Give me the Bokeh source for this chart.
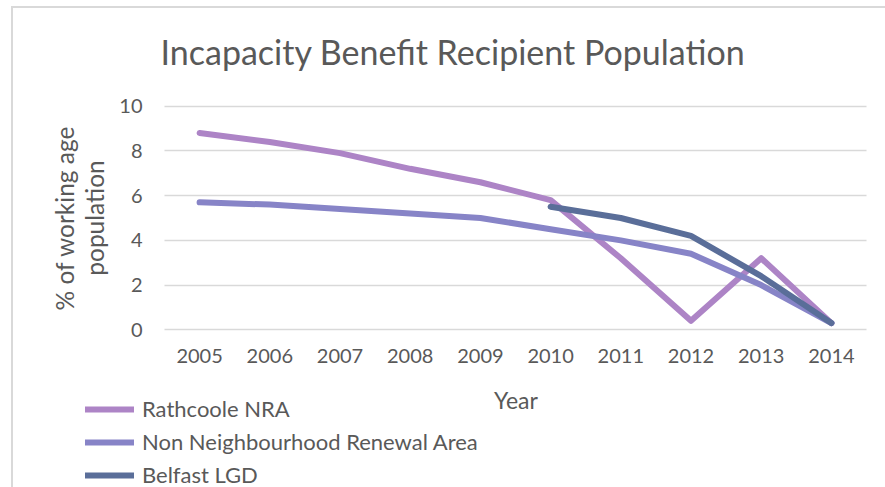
import math
from bokeh.plotting import figure
from bokeh.models import (Range1d, Legend, LegendItem, Label,
                          FixedTicker, InlineStyleSheet)
from bokeh.embed import file_html
from bokeh.resources import INLINE

# ---- data ----
years = [2005, 2006, 2007, 2008, 2009, 2010, 2011, 2012, 2013, 2014]
rathcoole = [8.8, 8.4, 7.9, 7.2, 6.6, 5.8, 3.2, 0.4, 3.2, 0.3]
non_nra = [5.7, 5.6, 5.4, 5.2, 5.0, 4.5, 4.0, 3.4, 2.0, 0.3]
belfast_years = [2010, 2011, 2012, 2013, 2014]
belfast = [5.5, 5.0, 4.2, 2.4, 0.3]
y_ticks = [0, 2, 4, 6, 8, 10]

title_text = "Incapacity Benefit Recipient Population"
x_label = "Year"
y_label_lines = ["% of working age", "population"]
series_names = ["Rathcoole NRA", "Non Neighbourhood Renewal Area", "Belfast LGD"]
colors = ["#AD84C6", "#8784C7", "#5A6E99"]

FONT = "Lato"
TXT = "#595959"
GRID = "#D9D9D9"

# ---- layout (pixels in the canvas) ----
W, H = 885, 487
PX_LEFT, PX_RIGHT, PX_TOP, PX_BOTTOM = 164.0, 866.0, 105.7, 329.3
ppx = (PX_RIGHT - PX_LEFT) / 10.0          # pixels per year band
ppy = (PX_BOTTOM - PX_TOP) / 10.0          # pixels per unit
x0 = 2004.5 - PX_LEFT / ppx
x1 = 2004.5 + (W - PX_LEFT) / ppx
y1 = 10 + PX_TOP / ppy
y0 = -(H - PX_BOTTOM) / ppy


def dx(px):
    return x0 + px / ppx


def dy(py):
    return y1 - py / ppy


p = figure(width=W, height=H, x_range=Range1d(x0, x1), y_range=Range1d(y0, y1),
           output_backend="svg", toolbar_location=None,
           min_border_left=0, min_border_right=0, min_border_top=0, min_border_bottom=0)
p.outline_line_color = None
p.background_fill_color = "white"
p.border_fill_color = "white"

p.xgrid.grid_line_color = None
p.yaxis.ticker = FixedTicker(ticks=y_ticks)
p.xaxis.ticker = FixedTicker(ticks=years)
p.xaxis.fixed_location = 0
p.yaxis.fixed_location = 2004.5

ygrid = p.ygrid[0]
if "cross_bounds" in ygrid.properties():
    ygrid.grid_line_color = GRID
    ygrid.grid_line_width = 1.5
    ygrid.cross_bounds = (2004.5, 2014.5)
else:
    ygrid.grid_line_color = None
    p.segment(x0=[2004.5] * len(y_ticks), x1=[2014.5] * len(y_ticks), y0=y_ticks, y1=y_ticks,
              line_color=GRID, line_width=1.5)

for ax in (p.xaxis[0], p.yaxis[0]):
    ax.axis_line_color = None
    ax.major_tick_line_color = None
    ax.minor_tick_line_color = None
    ax.major_tick_out = 0
    ax.major_tick_in = 0
    ax.major_label_text_font = FONT
    ax.major_label_text_font_size = "20px"
    ax.major_label_text_color = TXT
p.xaxis.major_label_standoff = 19
p.yaxis.major_label_standoff = 22

r1 = p.line(years, rathcoole, line_color=colors[0], line_width=6, line_cap="round", line_join="round")
r2 = p.line(years, non_nra, line_color=colors[1], line_width=6, line_cap="round", line_join="round")
r3 = p.line(belfast_years, belfast, line_color=colors[2], line_width=6, line_cap="round", line_join="round")

legend = Legend(items=[LegendItem(label=series_names[0], renderers=[r1]),
                       LegendItem(label=series_names[1], renderers=[r2]),
                       LegendItem(label=series_names[2], renderers=[r3])],
                location=(85, -1), orientation="vertical",
                border_line_color=None, background_fill_alpha=0, padding=0, margin=0,
                spacing=6, label_height=24, glyph_height=24, glyph_width=49,
                label_standoff=8, label_text_font=FONT, label_text_font_size="22px",
                label_text_color=TXT)
p.add_layout(legend)

p.add_layout(Label(x=dx(452.5), y=dy(51), text=title_text, text_font=FONT,
                   text_font_size="34px", text_color=TXT, text_align="center",
                   text_baseline="alphabetic"))
p.add_layout(Label(x=dx(515.5), y=dy(399), text=x_label, text_font=FONT,
                   text_font_size="23px", text_color=TXT, text_align="center",
                   text_baseline="alphabetic"))
for bx, line in zip([63.5, 93.5], y_label_lines):
    p.add_layout(Label(x=dx(bx), y=dy(217.5), text=line, angle=math.pi / 2,
                       text_font=FONT, text_font_size="24.5px", text_color=TXT,
                       text_align="center", text_baseline="alphabetic"))

p.stylesheets.append(InlineStyleSheet(css="""
:host { position: relative; }
:host::after { content: ""; position: absolute; left: 11px; top: 6px; width: 874px; height: 481px;
  border-left: 2px solid #D9D9D9; border-top: 2px solid #D9D9D9; pointer-events: none; }
"""))

open("out.html", "w").write(file_html(p, INLINE))
